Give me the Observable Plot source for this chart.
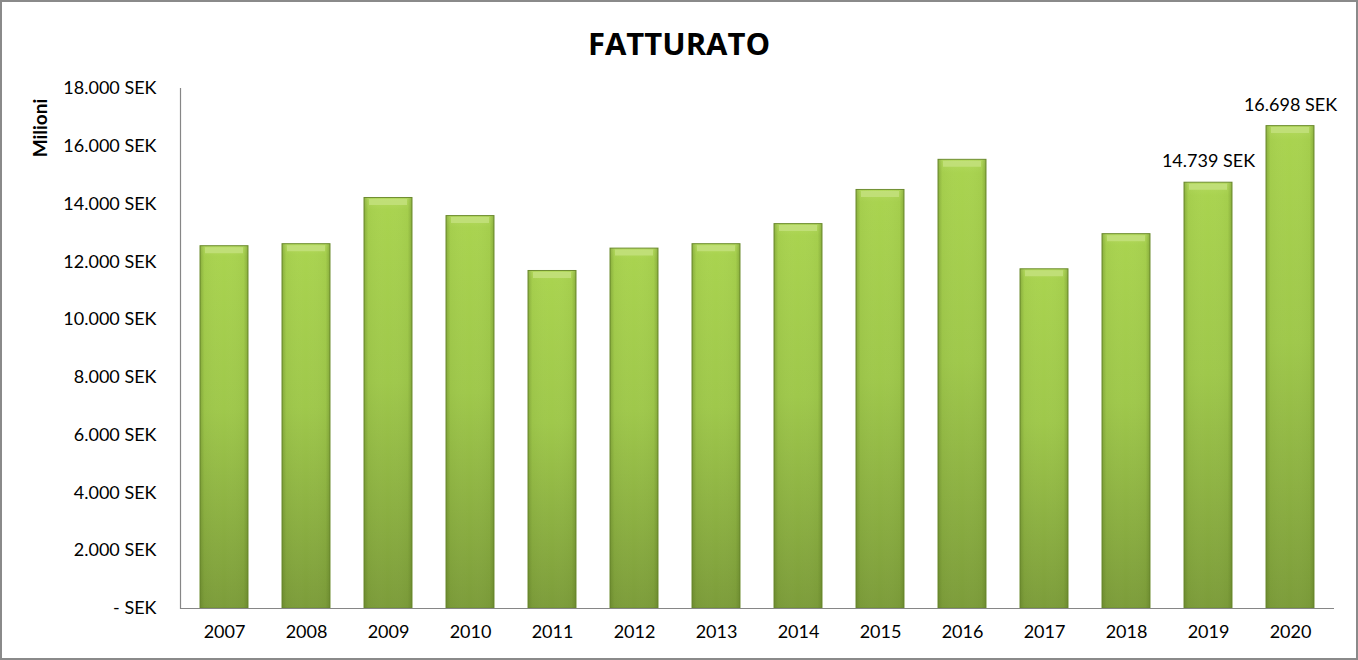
<!DOCTYPE html>
<html>
<head>
<meta charset="utf-8">
<script src="https://cdn.jsdelivr.net/npm/d3@7"></script>
<script src="https://cdn.jsdelivr.net/npm/@observablehq/plot@0.6"></script>
<style>
  html, body { margin: 0; padding: 0; background: #fff; }
  #frame { position: relative; width: 1358px; height: 660px; box-sizing: border-box; border: 2px solid #8a8a8a; background: #fff; overflow: hidden; font-family: Lato, "Open Sans", sans-serif; }
  #title { position: absolute; left: 0; right: 0; top: 20px; text-align: center; font-size: 31px; font-weight: bold; color: #000; font-family: "Open Sans", Lato, sans-serif; }
  #chart { position: absolute; left: 0; top: 0; }
</style>
</head>
<body>
<div id="frame">
  <div id="title">FATTURATO</div>
  <div id="chart"></div>
</div>
<script>
const years = ["2007","2008","2009","2010","2011","2012","2013","2014","2015","2016","2017","2018","2019","2020"];
const revenue = [12541, 12611, 14210, 13584, 11683, 12458, 12611, 13306, 14488, 15531, 11742, 12958, 14739, 16698];
const labeledYears = ["2019", "2020"];
const yTicks = [0, 2000, 4000, 6000, 8000, 10000, 12000, 14000, 16000, 18000];
const yAxisLabel = "Milioni";

const data = years.map((y, i) => ({ year: y, value: revenue[i] }));
const labelData = data.filter(d => labeledYears.includes(d.year));

const fmtNum = v => v === 0 ? "- SEK" : d3.format(",")(v).replace(/,/g, ".") + " SEK";

const plot = Plot.plot({
  width: 1354,
  height: 656,
  marginTop: 86,
  marginBottom: 50,
  marginLeft: 178,
  marginRight: 22,
  style: { fontFamily: "Lato, 'Open Sans', sans-serif", fontSize: "18px", color: "#000", background: "transparent" },
  x: { domain: years, paddingInner: 0.42, paddingOuter: 0.21, label: null },
  y: { domain: [0, 18000], label: null },
  marks: [
    Plot.barY(data, { x: "year", y: "value", fill: "url(#barV)", stroke: "#6f8e31", strokeWidth: 1 }),
    Plot.barY(data, { x: "year", y: "value", fill: "url(#barH)" }),
    Plot.tickY(data, { x: "year", y: "value", stroke: "#c3e17c", strokeWidth: 6, dy: 4, insetLeft: 5, insetRight: 5, strokeOpacity: 0.85 }),
    Plot.frame({ anchor: "left", stroke: "#868686", strokeWidth: 1.2 }),
    Plot.axisY({ ticks: yTicks, tickFormat: fmtNum, tickSize: 0, tickPadding: 24, label: null, fontSize: 18 }),
    Plot.axisX({ tickSize: 0, tickPadding: 17, label: null, fontSize: 18 }),
    Plot.ruleY([0], { stroke: "#868686", strokeWidth: 1.2 }),
    Plot.text(labelData, { x: "year", y: "value", text: d => fmtNum(d.value), dy: -21, fontSize: 18, fill: "#000" })
  ]
});

// gradient definitions
const ns = "http://www.w3.org/2000/svg";
const defs = document.createElementNS(ns, "defs");
defs.innerHTML = `
  <linearGradient id="barV" x1="0" y1="0" x2="0" y2="1">
    <stop offset="0" stop-color="#b4da5e"/>
    <stop offset="0.03" stop-color="#a9d34f"/>
    <stop offset="0.45" stop-color="#9fc84b"/>
    <stop offset="1" stop-color="#7c9c3a"/>
  </linearGradient>
  <linearGradient id="barH" x1="0" y1="0" x2="1" y2="0">
    <stop offset="0" stop-color="#4f6a1c" stop-opacity="0.35"/>
    <stop offset="0.09" stop-color="#4f6a1c" stop-opacity="0.05"/>
    <stop offset="0.5" stop-color="#ffffff" stop-opacity="0.0"/>
    <stop offset="0.91" stop-color="#4f6a1c" stop-opacity="0.05"/>
    <stop offset="1" stop-color="#4f6a1c" stop-opacity="0.35"/>
  </linearGradient>`;
plot.insertBefore(defs, plot.firstChild);

// y axis title
const yl = document.createElementNS(ns, "text");
yl.setAttribute("transform", "translate(40,126) rotate(-90)");
yl.setAttribute("text-anchor", "middle");
yl.setAttribute("dominant-baseline", "middle");
yl.setAttribute("font-weight", "bold");
yl.setAttribute("font-size", "19");
yl.textContent = yAxisLabel;
plot.appendChild(yl);

document.getElementById("chart").appendChild(plot);
</script>
</body>
</html>
